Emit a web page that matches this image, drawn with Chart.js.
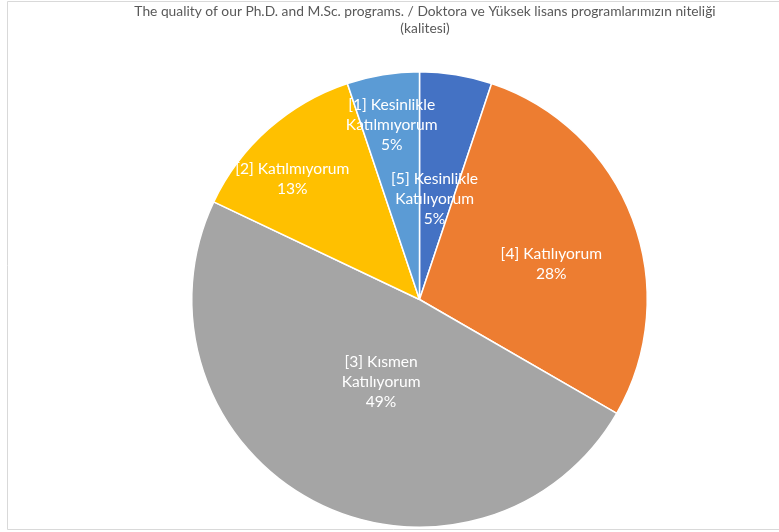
<!DOCTYPE html>
<html>
<head>
<meta charset="utf-8">
<script src="https://cdn.jsdelivr.net/npm/chart.js@4/dist/chart.umd.min.js"></script>
<style>
  html, body { margin: 0; padding: 0; background: #ffffff; }
  #wrap { width: 779px; height: 532px; position: relative; }
</style>
</head>
<body>
<div id="wrap"><canvas id="c" width="779" height="532"></canvas></div>
<script>
// ---- data ----
const titleLines = [
  "The quality of our Ph.D. and M.Sc. programs. / Doktora ve Yüksek lisans programlarımızın niteliği",
  "(kalitesi)"
];
const categories = [
  ["[5] Kesinlikle", "Katılıyorum"],
  ["[4] Katılıyorum"],
  ["[3] Kısmen", "Katılıyorum"],
  ["[2] Katılmıyorum"],
  ["[1] Kesinlikle", "Katılmıyorum"]
];
const counts = [4, 22, 38, 10, 4];
const percentLabels = ["5%", "28%", "49%", "13%", "5%"];

// ---- style ----
const sliceColors = ["#4472C4", "#ED7D31", "#A5A5A5", "#FFC000", "#5B9BD5"];
const labelRadiusFrac = [0.447, 0.60, 0.398, 0.771, 0.778];
const labelAngleShiftDeg = [-0.7, 5.5, -2.6, -4.9, 0.2];
const FONT = "Lato, 'Open Sans', sans-serif";

const framePlugin = {
  id: 'frame',
  beforeDraw(chart) {
    const ctx = chart.ctx;
    ctx.save();
    ctx.fillStyle = '#ffffff';
    ctx.fillRect(0, 0, chart.width, chart.height);
    ctx.strokeStyle = '#d9d9d9';
    ctx.lineWidth = 1;
    ctx.beginPath();
    ctx.moveTo(chart.width, 1.5);
    ctx.lineTo(7.5, 1.5);
    ctx.lineTo(7.5, 529.5);
    ctx.lineTo(chart.width, 529.5);
    ctx.stroke();
    ctx.fillStyle = '#595959';
    ctx.font = "13.8px " + FONT;
    ctx.textAlign = 'center';
    ctx.textBaseline = 'middle';
    titleLines.forEach((t, i) => ctx.fillText(t, 425, 12 + i * 17));
    ctx.restore();
  }
};

const labelPlugin = {
  id: 'sliceLabels',
  afterDatasetsDraw(chart) {
    const ctx = chart.ctx;
    const meta = chart.getDatasetMeta(0);
    ctx.save();
    ctx.fillStyle = '#ffffff';
    ctx.font = "15.6px " + FONT;
    ctx.textAlign = 'center';
    ctx.textBaseline = 'middle';
    const lh = 20;
    meta.data.forEach((arc, i) => {
      const p = arc.getProps(['x', 'y', 'startAngle', 'endAngle', 'outerRadius'], true);
      const mid = (p.startAngle + p.endAngle) / 2 + labelAngleShiftDeg[i] * Math.PI / 180;
      const r = p.outerRadius * labelRadiusFrac[i];
      const cx = p.x + Math.cos(mid) * r;
      const cy = p.y + Math.sin(mid) * r;
      const lines = categories[i].concat([percentLabels[i]]);
      const y0 = cy - (lines.length - 1) * lh / 2;
      lines.forEach((t, k) => ctx.fillText(t, cx, y0 + k * lh));
    });
    ctx.restore();
  }
};

new Chart(document.getElementById('c'), {
  type: 'pie',
  data: {
    labels: categories.map(c => c.join(' ')),
    datasets: [{
      data: counts,
      backgroundColor: sliceColors,
      borderColor: '#ffffff',
      borderWidth: 1.5
    }]
  },
  options: {
    responsive: false,
    animation: false,
    events: [],
    layout: { padding: { top: 71, bottom: 4, left: 191, right: 131 } },
    plugins: {
      legend: { display: false },
      title: { display: false },
      tooltip: { enabled: false }
    }
  },
  plugins: [framePlugin, labelPlugin]
});
</script>
</body>
</html>
